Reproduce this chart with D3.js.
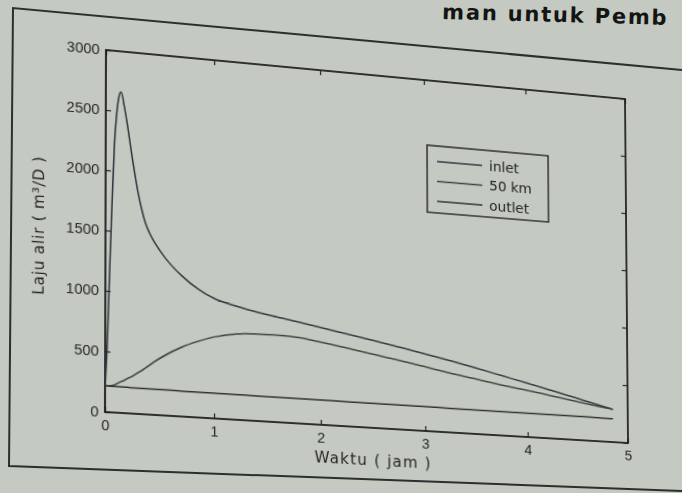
<!DOCTYPE html>
<html>
<head>
<meta charset="utf-8">
<script src="https://cdn.jsdelivr.net/npm/d3@7"></script>
<style>
html, body { margin: 0; padding: 0; width: 682px; height: 493px; overflow: hidden; background: #c4cac1; }
#page { position: absolute; left: 0; top: 0; }
#warp { position: absolute; left: 0; top: 0; transform-origin: 0 0; }
</style>
</head>
<body>
<svg id="page" width="682" height="493"></svg>
<div id="warp"></div>
<script>
// waktu (jam) dan laju alir (m3/D) tiap titik pengamatan
const times = [0, 0.02, 0.04, 0.06, 0.08, 0.1, 0.12, 0.14, 0.17, 0.2, 0.25, 0.3, 0.33, 0.36, 0.4, 0.45, 0.55, 0.7, 0.85, 1.0, 1.2, 1.4, 1.6, 1.8, 2.0, 2.25, 2.5, 2.75, 3.0, 3.25, 3.5, 3.75, 4.0, 4.25, 4.5, 4.75, 4.85];
const inlet = [200, 600, 1200, 1750, 2230, 2480, 2620, 2660, 2540, 2380, 2080, 1820, 1700, 1600, 1510, 1430, 1305, 1170, 1070, 1000, 950, 910, 880, 850, 818, 780, 740, 698, 655, 610, 562, 512, 462, 410, 358, 305, 283];
const km50 = [215, 215, 217, 220, 225, 235, 245, 255, 268, 285, 310, 340, 358, 378, 405, 440, 500, 575, 632, 678, 715, 728, 730, 720, 695, 660, 622, 585, 545, 505, 468, 432, 400, 365, 330, 295, 283];
const outlet = [215, 215, 215, 215, 215, 215, 215, 214, 214, 214, 213, 213, 213, 213, 212, 212, 212, 211, 211, 210, 210, 209, 209, 208, 208, 207, 207, 206, 206, 205, 205, 205, 204, 204, 204, 203, 203];
const xTicks = [0, 1, 2, 3, 4, 5];
const yTicks = [0, 500, 1000, 1500, 2000, 2500, 3000];
const seriesNames = ["inlet", "50 km", "outlet"];
const seriesColors = ["#30343e", "#3a443c", "#303030"];

const FONT = "DejaVu Sans, Verdana, sans-serif";

// halaman (bingkai foto) digambar langsung di koordinat gambar
const page = d3.select("#page");
page.append("path")
    .attr("d", "M682,70 L13,8 L9,466 L682,491")
    .attr("fill", "none")
    .attr("stroke", "#2c2f2c")
    .attr("stroke-width", 2);
page.append("text")
    .attr("x", 442)
    .attr("y", 22)
    .attr("transform", "rotate(1.5, 560, 22)")
    .attr("font-family", FONT)
    .attr("font-weight", "bold")
    .attr("font-size", 21)
    .attr("letter-spacing", 1.8)
    .attr("fill", "#141414")
    .text("man untuk Pemb");

// grafik datar, lalu diproyeksikan ke bidang miring foto
const FW = 660, FH = 440;
const plot = { left: 90, top: 12, width: 520, height: 360 };
const x = d3.scaleLinear().domain([0, 5]).range([plot.left, plot.left + plot.width]);
const y = d3.scaleLinear().domain([0, 3000]).range([plot.top + plot.height, plot.top]);

const svg = d3.select("#warp").append("svg")
    .attr("width", FW)
    .attr("height", FH)
    .style("overflow", "visible")
    .style("font-family", FONT);

const bottom = plot.top + plot.height;
const right = plot.left + plot.width;

function styleAxis(g) {
    g.select(".domain").remove();
    g.selectAll(".tick line").attr("stroke", "#222").attr("stroke-width", 1.2);
    g.selectAll(".tick text").attr("fill", "#262626").attr("font-size", 14);
}

svg.append("g")
    .attr("transform", `translate(0,${bottom})`)
    .call(d3.axisBottom(x).tickValues(xTicks).tickFormat(d3.format("d"))
        .tickSizeInner(-5).tickSizeOuter(0).tickPadding(8))
    .call(styleAxis);
svg.append("g")
    .attr("transform", `translate(0,${plot.top})`)
    .call(d3.axisTop(x).tickValues(xTicks).tickSizeInner(-5).tickSizeOuter(0).tickFormat(""))
    .call(styleAxis);
svg.append("g")
    .attr("transform", `translate(${plot.left},0)`)
    .call(d3.axisLeft(y).tickValues(yTicks).tickFormat(d3.format("d"))
        .tickSizeInner(-5).tickSizeOuter(0).tickPadding(6))
    .call(styleAxis);
svg.append("g")
    .attr("transform", `translate(${right},0)`)
    .call(d3.axisRight(y).tickValues(yTicks).tickSizeInner(-5).tickSizeOuter(0).tickFormat(""))
    .call(styleAxis);

svg.append("rect")
    .attr("x", plot.left)
    .attr("y", plot.top)
    .attr("width", plot.width)
    .attr("height", plot.height)
    .attr("fill", "none")
    .attr("stroke", "#1f1f1f")
    .attr("stroke-width", 1.8);

const line = d3.line()
    .x((d) => x(d[0]))
    .y((d) => y(d[1]))
    .curve(d3.curveMonotoneX);

[inlet, km50, outlet].forEach((vals, i) => {
    svg.append("path")
        .datum(times.map((t, j) => [t, vals[j]]))
        .attr("d", line)
        .attr("fill", "none")
        .attr("stroke", seriesColors[i])
        .attr("stroke-width", 1.5);
});

svg.append("text")
    .attr("x", plot.left + plot.width / 2)
    .attr("y", bottom + 38)
    .attr("text-anchor", "middle")
    .attr("font-size", 15)
    .attr("letter-spacing", 1.2)
    .attr("fill", "#262626")
    .text("Waktu ( jam )");

svg.append("text")
    .attr("transform", `translate(32,192) rotate(-90)`)
    .attr("text-anchor", "middle")
    .attr("font-size", 15)
    .attr("letter-spacing", 0.8)
    .attr("fill", "#262626")
    .text("Laju alir ( m³/D )");

// legenda
const legend = svg.append("g").attr("transform", "translate(405,79)");
legend.append("rect")
    .attr("width", 124)
    .attr("height", 69)
    .attr("fill", "#c4cac1")
    .attr("stroke", "#222")
    .attr("stroke-width", 1.4);
seriesNames.forEach((name, i) => {
    const ly = 16 + i * 20.5;
    legend.append("line")
        .attr("x1", 10).attr("x2", 56)
        .attr("y1", ly).attr("y2", ly)
        .attr("stroke", seriesColors[i])
        .attr("stroke-width", 1.5);
    legend.append("text")
        .attr("x", 63)
        .attr("y", ly)
        .attr("dy", "0.35em")
        .attr("font-size", 14)
        .attr("fill", "#222")
        .text(name);
});

// homografi: sudut kotak grafik -> sudut pada foto
function homography(src, dst) {
    const A = [], b = [];
    for (let i = 0; i < 4; i++) {
        const [sx, sy] = src[i], [dx, dy] = dst[i];
        A.push([sx, sy, 1, 0, 0, 0, -sx * dx, -sy * dx]); b.push(dx);
        A.push([0, 0, 0, sx, sy, 1, -sx * dy, -sy * dy]); b.push(dy);
    }
    const n = 8;
    for (let c = 0; c < n; c++) {
        let p = c;
        for (let r = c + 1; r < n; r++) if (Math.abs(A[r][c]) > Math.abs(A[p][c])) p = r;
        [A[c], A[p]] = [A[p], A[c]];
        [b[c], b[p]] = [b[p], b[c]];
        for (let r = 0; r < n; r++) {
            if (r === c) continue;
            const f = A[r][c] / A[c][c];
            for (let k = c; k < n; k++) A[r][k] -= f * A[c][k];
            b[r] -= f * b[c];
        }
    }
    return b.map((v, i) => v / A[i][i]);
}

const h = homography(
    [[plot.left, plot.top], [right, plot.top], [plot.left, bottom], [right, bottom]],
    [[106, 50], [625, 99], [105, 412], [628, 443]]
);
d3.select("#warp").style("transform",
    `matrix3d(${h[0]},${h[3]},0,${h[6]},${h[1]},${h[4]},0,${h[7]},0,0,1,0,${h[2]},${h[5]},0,1)`);
</script>
</body>
</html>
